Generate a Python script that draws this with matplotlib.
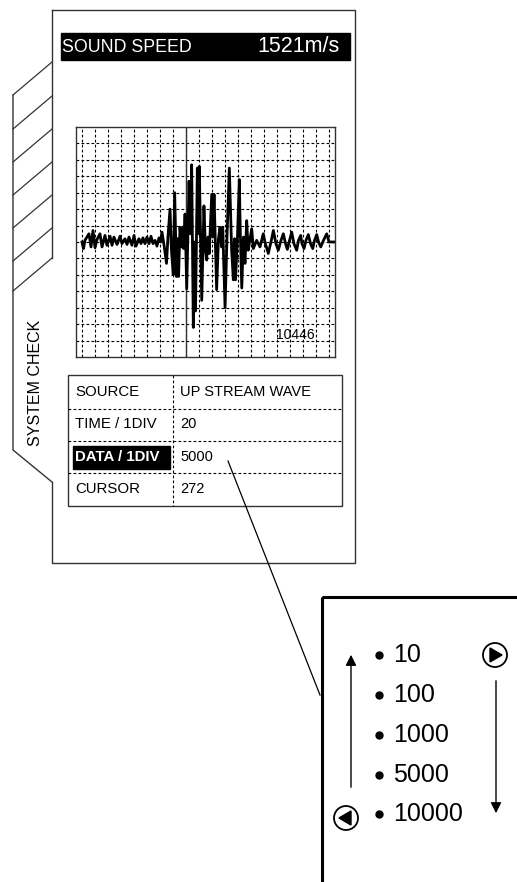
import matplotlib.pyplot as plt
from matplotlib.patches import Rectangle, Circle, Polygon

# screen texts
title_text = "SOUND SPEED"
speed_text = "1521m/s"
side_text = "SYSTEM CHECK"
cursor_value = "10446"
row_names = ["SOURCE", "TIME / 1DIV", "DATA / 1DIV", "CURSOR"]
row_values = ["UP STREAM WAVE", "20", "5000", "272"]
selected_row = 2
choices = ["10", "100", "1000", "5000", "10000"]

# waveform: time in divisions, amplitude in divisions
wave_t = [0.46, 0.58, 0.69, 0.85, 1.00, 1.16, 1.31, 1.47, 1.62, 1.85, 2.01, 2.24, 2.39,
          2.63, 2.78, 2.93, 3.17, 3.40, 3.55, 3.78, 3.94, 4.09, 4.32, 4.48, 4.63, 4.86,
          5.02, 5.17, 5.33, 5.48, 5.64, 5.79, 5.95, 6.10, 6.25, 6.41, 6.53, 6.64, 6.80,
          6.99, 7.10, 7.26, 7.37, 7.51, 7.62, 7.76, 7.84, 7.92, 8.03, 8.15, 8.24, 8.32,
          8.42, 8.55, 8.73, 8.84, 8.93, 9.06, 9.15, 9.23, 9.37, 9.44, 9.52, 9.71, 9.88,
          10.00, 10.09, 10.19, 10.29, 10.48, 10.56, 10.66, 10.86, 11.00, 11.12, 11.24,
          11.33, 11.51, 11.66, 11.84, 12.02, 12.15, 12.24, 12.32, 12.47, 12.61, 12.69,
          12.80, 12.93, 13.05, 13.18, 13.30, 13.44, 13.57, 13.69, 13.95, 14.21, 14.46,
          14.59, 14.85, 15.11, 15.24, 15.44, 15.62, 15.83, 16.01, 16.18, 16.32, 16.49,
          16.66, 16.83, 17.04, 17.18, 17.35, 17.45, 17.61, 17.76, 17.94, 18.11, 18.28,
          18.42, 18.59, 18.73, 18.90, 19.11, 19.36, 19.54, 20.0]
wave_a = [0.0, -0.4, 0.1, 0.3, 0.5, -0.3, 0.7, -0.35, 0.15, 0.5, -0.3, 0.4, -0.2,
          0.35, -0.2, 0.3, -0.15, 0.35, -0.1, 0.2, -0.15, 0.3, -0.2, 0.4, -0.25, 0.2,
          -0.1, 0.25, -0.1, 0.3, -0.1, 0.35, -0.1, 0.1, -0.25, 0.25, 0.0, 0.6, -0.2,
          -1.3, 0.3, 2.0, -0.5, -2.0, 3.0, -2.1, 0.2, -2.1, 0.9, -0.3, 0.9, -0.4,
          1.7, -2.85, 3.7, 0.5, 4.7, -5.2, 0.0, -4.2, 4.5, 0.5, 4.6, -3.55, 2.2,
          -0.5, -1.1, 0.3, -0.7, 2.9, 0.3, 2.9, -2.9, 0.2, 0.9, -0.3,
          0.9, -4.0, 0.3, 4.5, -0.5, -2.3, 0.2, -2.3, 0.3, 3.8, 0.5,
          -2.8, 0.3, -1.3, 1.3, -0.5, 0.2, 0.8, -0.4, 0.1, -0.3, 0.5,
          0.0, -0.7, 0.2, 0.7, -0.1, -0.5, 0.1, 0.5, -0.1, -0.45, 0.1,
          0.6, -0.1, -0.5, 0.1, 0.4, -0.1, -0.4, 0.1, 0.45, -0.1, -0.4,
          0.1, 0.45, 0.0, -0.3, 0.1, 0.5, 0.0, 0.0]
cursor_t = 8.5

W, H = 517, 882
fig = plt.figure(figsize=(W / 100, H / 100), dpi=100)
ax = fig.add_axes([0, 0, 1, 1])
ax.set_xlim(0, W)
ax.set_ylim(H, 0)
ax.axis("off")

sans = ["Liberation Sans", "DejaVu Sans"]
edge = "#333333"
dash = (0, (2.5, 2))

# screen frame and side tabs
ax.plot([52, 355, 355, 52, 52], [10, 10, 563, 563, 482], color=edge, lw=1)
ax.plot([52, 52], [10, 258], color=edge, lw=1)
ax.plot([13, 13, 52], [95, 450, 482], color=edge, lw=1)
for y in [62, 96, 129, 162, 195, 228, 258]:
    ax.plot([52, 13], [y, y + 33], color=edge, lw=0.9)
ax.text(35, 383, side_text, rotation=90, ha="center", va="center",
        fontsize=11.5, family=sans)

# header bar
ax.add_patch(Rectangle((61, 33), 289, 27, color="black"))
ax.text(62, 47, title_text, color="white", ha="left", va="center",
        fontsize=12.8, family=sans)
ax.text(340, 47, speed_text, color="white", ha="right", va="center",
        fontsize=15.5, family=sans)

# scope
sc = fig.add_axes([76 / W, 1 - 357 / H, 259 / W, 230 / H])
sc.set_xlim(0, 20)
sc.set_ylim(-7, 7)
for k in range(20):
    sc.axvline(k + 0.5, color="black", lw=0.8, ls=dash)
for k in range(-6, 7):
    sc.axhline(k, color="black", lw=0.8, ls=dash)
sc.axvline(cursor_t, color=edge, lw=1)
sc.plot(wave_t, wave_a, color="black", lw=2)
sc.text(16.9, -5.65, cursor_value, ha="center", va="center", fontsize=10, family=sans)
sc.set_xticks([])
sc.set_yticks([])
for s in sc.spines.values():
    s.set_color(edge)
    s.set_linewidth(1)

# settings table
ax.add_patch(Rectangle((68, 375), 274, 131, fill=False, ec=edge, lw=1))
for y in [409, 441, 473]:
    ax.plot([68, 342], [y, y], color="black", lw=0.8, ls=dash)
ax.plot([173, 173], [375, 506], color="black", lw=0.8, ls=dash)
row_y = [392, 424, 457, 489]
for i, (name, val) in enumerate(zip(row_names, row_values)):
    c, wt = "black", "normal"
    if i == selected_row:
        ax.add_patch(Rectangle((73, 446), 97, 23, color="black"))
        c, wt = "white", "bold"
    ax.text(75, row_y[i], name, color=c, weight=wt, ha="left", va="center",
            fontsize=10.8, family=sans)
    ax.text(180, row_y[i], val, ha="left", va="center", fontsize=10.5, family=sans)

# leader line to popup
ax.plot([228, 320], [461, 695], color="black", lw=0.9)

# popup with choices
ax.add_patch(Rectangle((322, 597), 260, 400, fill=False, ec="black", lw=2.2))
list_y = [655, 695, 735, 775, 814]
for y, label in zip(list_y, choices):
    ax.plot(379, y, "o", color="black", ms=5)
    ax.text(393, y, label, ha="left", va="center", fontsize=18, family=sans)

ax.annotate("", xy=(351, 652), xytext=(351, 790),
            arrowprops=dict(arrowstyle="-|>", color="black", lw=1, mutation_scale=16))
ax.annotate("", xy=(496, 816), xytext=(496, 678),
            arrowprops=dict(arrowstyle="-|>", color="black", lw=1, mutation_scale=16))

ax.add_patch(Circle((346, 818), 12, fill=False, ec="black", lw=1.3))
ax.add_patch(Polygon([(339, 818), (351, 811), (351, 825)], color="black"))
ax.add_patch(Circle((495, 655), 12, fill=False, ec="black", lw=1.3))
ax.add_patch(Polygon([(502, 655), (490, 648), (490, 662)], color="black"))

fig.savefig("out.png", dpi=100)
